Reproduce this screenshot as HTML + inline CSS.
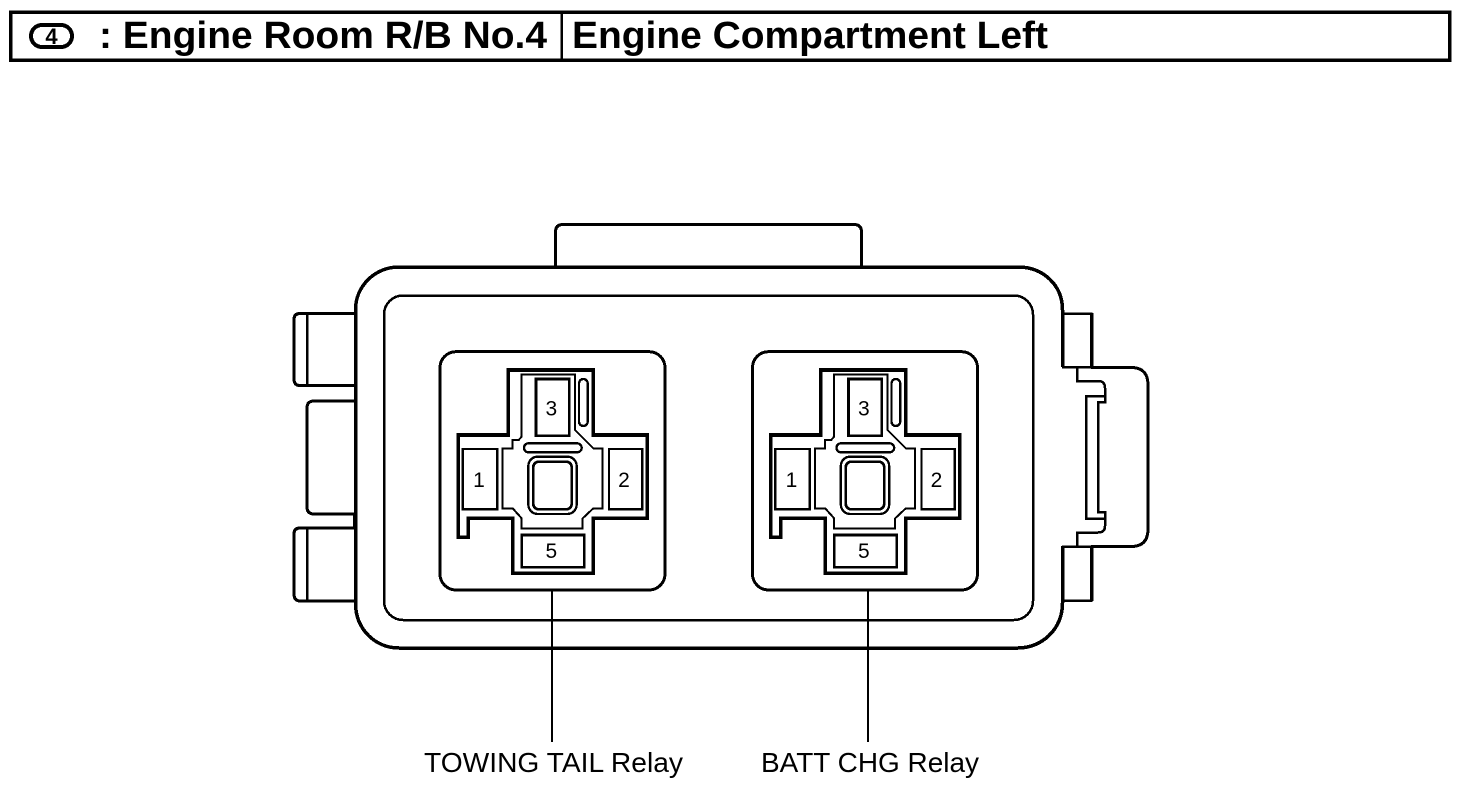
<!DOCTYPE html>
<html><head><meta charset="utf-8"><style>
html,body{margin:0;padding:0;background:#fff;width:1472px;height:792px;overflow:hidden}
svg{display:block}
text{font-family:"Liberation Sans",sans-serif;fill:#000}
.k{fill:none;stroke:#000;shape-rendering:crispEdges}
</style></head><body>
<svg width="1472" height="792" viewBox="0 0 1472 792" xmlns="http://www.w3.org/2000/svg">
<defs>
<g id="relay" transform="translate(430 340) scale(.33333)">
  <rect class="k" x="30" y="35" width="675" height="715" rx="48" stroke-width="9"/>
  <path class="k" stroke-width="11" d="M85 285H235V90H490V285H652V535H490V700H248V535H115V592H85Z"/>
  <path class="k" stroke-width="6" d="M275 103H435V270L490 325H518V505H490L458 535V565H275V535L248 505H218V325H248V300H266L275 290Z"/>
  <rect class="k" x="318" y="117" width="100" height="170" stroke-width="8"/>
  <rect class="k" x="98" y="327" width="104" height="181" stroke-width="7"/>
  <rect class="k" x="537" y="327" width="100" height="181" stroke-width="7"/>
  <rect class="k" x="275" y="585" width="188" height="97" stroke-width="8"/>
  <rect class="k" x="282" y="310" width="173" height="27" rx="13.5" stroke-width="7"/>
  <rect class="k" x="447" y="117" width="26" height="141" rx="13" stroke-width="7"/>
  <rect class="k" x="295" y="350" width="145" height="172" rx="28" stroke-width="7"/>
  <rect class="k" x="310" y="365" width="115" height="143" rx="16" stroke-width="8"/>
  <text x="364" y="226" font-size="63" text-anchor="middle">3</text>
  <text x="147" y="441" font-size="63" text-anchor="middle">1</text>
  <text x="582" y="441" font-size="63" text-anchor="middle">2</text>
  <text x="364" y="654" font-size="63" text-anchor="middle">5</text>
</g>
</defs>

<!-- header -->
<rect class="k" x="10.500" y="12" width="1439" height="48" stroke-width="3.500"/>
<line class="k" x1="561.500" y1="12" x2="561.500" y2="60" stroke-width="2.500"/>
<rect class="k" x="31" y="25" width="41" height="22" rx="11" stroke-width="4"/>
<text x="51.500" y="44" font-size="22" font-weight="700" text-anchor="middle">4</text>
<text x="99" y="48" font-size="38" font-weight="700" textLength="448" lengthAdjust="spacingAndGlyphs">: Engine Room R/B No.4</text>
<text x="572" y="48" font-size="38" font-weight="700" textLength="476" lengthAdjust="spacingAndGlyphs">Engine Compartment Left</text>

<!-- body -->
<path class="k" stroke-width="3.500" d="M1062.500 367V310C1062.500 284 1042 267 1018 267H399C375 267 355.500 286 355.500 310V603C355.500 629 375 648 399 648H1018C1042 648 1062.500 629 1062.500 603V546"/>
<rect class="k" x="384" y="295.500" width="649" height="324.500" rx="19" stroke-width="2.500"/>
<!-- top tab -->
<path class="k" stroke-width="3" d="M555.500 266V232Q555.500 224.500 563 224.500H854Q861.500 224.500 861.500 232V266"/>
<!-- left tabs -->
<path class="k" stroke-width="3" d="M355 313.500H300Q294 313.500 294 319.500V379Q294 385.500 300 385.500H356"/>
<line class="k" x1="307" y1="313" x2="307" y2="385" stroke-width="2.500"/>
<path class="k" stroke-width="3" d="M356 401H314Q307 401 307 408V507Q307 514 314 514H355"/>
<path class="k" stroke-width="3" d="M355 528H300Q294 528 294 534V594Q294 601 300 601H355"/>
<line class="k" x1="307" y1="528" x2="307" y2="601" stroke-width="2.500"/>
<line class="k" x1="355" y1="513" x2="355" y2="529" stroke-width="4"/>
<!-- right tabs -->
<path class="k" stroke-width="2.500" d="M1062 313.500H1091V367H1062"/>
<line class="k" x1="1091.500" y1="313" x2="1091.500" y2="367" stroke-width="3.500"/>
<path class="k" stroke-width="2.500" d="M1062 546.500H1091V600.500H1062"/>
<line class="k" x1="1091.500" y1="546" x2="1091.500" y2="601" stroke-width="3.500"/>
<!-- right latch -->
<path class="k" stroke-width="3" d="M1091 367.500H1131Q1148 367.500 1148 385V529Q1148 546.500 1131 546.500H1091"/>
<path class="k" stroke-width="2.500" d="M1077 367V381H1098Q1105 381 1105 388V402H1098V512H1105V526Q1105 532.500 1098 532.500H1077V546"/>
<path class="k" stroke-width="2.500" d="M1105 396H1086V518.500H1105"/>

<use href="#relay"/>
<use href="#relay" transform="translate(312.500 0)"/>

<!-- leaders -->
<line class="k" x1="552" y1="590" x2="552" y2="742" stroke-width="2"/>
<line class="k" x1="868" y1="590" x2="868" y2="742" stroke-width="2"/>
<text x="424" y="772" font-size="28" textLength="259" lengthAdjust="spacingAndGlyphs">TOWING TAIL Relay</text>
<text x="761" y="772" font-size="28" textLength="218" lengthAdjust="spacingAndGlyphs">BATT CHG Relay</text>
</svg>
</body></html>
